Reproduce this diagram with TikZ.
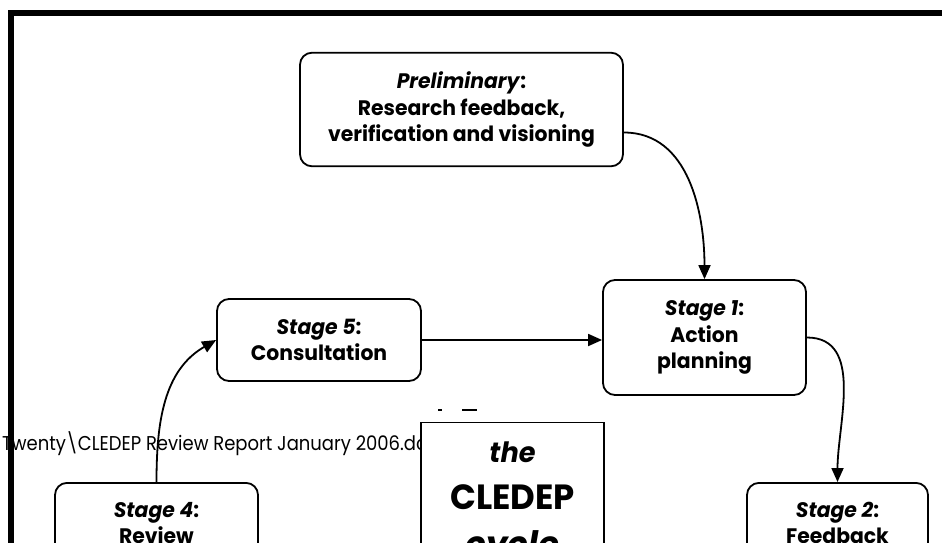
\documentclass[tikz,border=0pt]{standalone}
\usepackage{fontspec}
\setmainfont{Poppins}[FakeStretch=0.97]
\newfontfamily\footfont{Poppins}[FakeStretch=0.9]
\usetikzlibrary{arrows.meta,positioning,calc}

\newcommand{\stg}[1]{\textit{#1}:}

\begin{document}
\begin{tikzpicture}[x=1pt,y=1pt,
    stage/.style={draw, rounded corners=12pt, line width=1.8pt, fill=white, align=center,
        inner ysep=19pt, font=\bfseries\fontsize{21}{26.5}\selectfont},
    link/.style={line width=1.8pt, -{Triangle[length=14pt,width=12pt]}}]
    \useasboundingbox (0,0) rectangle (942,542);
    \clip (0,0) rectangle (942,542);

    % page frame
    \draw[line width=6pt] (11,-10) |- (950,529);

    \node[anchor=base west, inner sep=0pt, font=\footfont\fontsize{20}{24}\selectfont] (path) at (2,92)
        {Twenty\textbackslash CLEDEP Review Report January 2006.doc};

    \node[stage, minimum width=323pt, minimum height=105pt] (prelim) at (461.5,432.5)
        {\stg{Preliminary}\\Research feedback,\\verification and visioning};
    \node[stage, minimum width=203pt, minimum height=115pt] (s1) at (704.5,204.5)
        {\stg{Stage 1}\\Action\\planning};
    \node[stage, minimum width=204pt, minimum height=82pt, inner ysep=10pt] (s5) at (319,202)
        {\stg{Stage 5}\\Consultation};
    \node[stage, minimum width=181pt, anchor=north] (s2) at (837.5,60)
        {\stg{Stage 2}\\Feedback};
    \node[stage, minimum width=203pt, anchor=north] (s4) at (156.5,60)
        {\stg{Stage 4}\\Review};

    \node[draw, line width=1.4pt, fill=white, anchor=north, minimum width=183pt, minimum height=150pt,
        inner sep=0pt] (cycle) at (512.5,120) {};
    \node[below=16pt of cycle.north, align=center, font=\bfseries\fontsize{35}{47}\selectfont] (cyclelbl)
        {{\fontsize{28}{34}\selectfont\itshape the}\\CLEDEP\\\textit{cycle}};

    % bits of text above the box
    \draw[line width=2pt] (438,132) -- (442,132) (462,132) -- (477,132);

    \draw[link] ([yshift=-23pt]prelim.east) to[out=0,in=90] (s1.north);
    \draw[link] (s1.east) to[out=0,in=90] (s2.north);
    \draw[link] (s5.east) -- (s5.east -| s1.west);
    \draw[link] (s4.north) to[out=90,in=210] (s5.west);
\end{tikzpicture}
\end{document}
